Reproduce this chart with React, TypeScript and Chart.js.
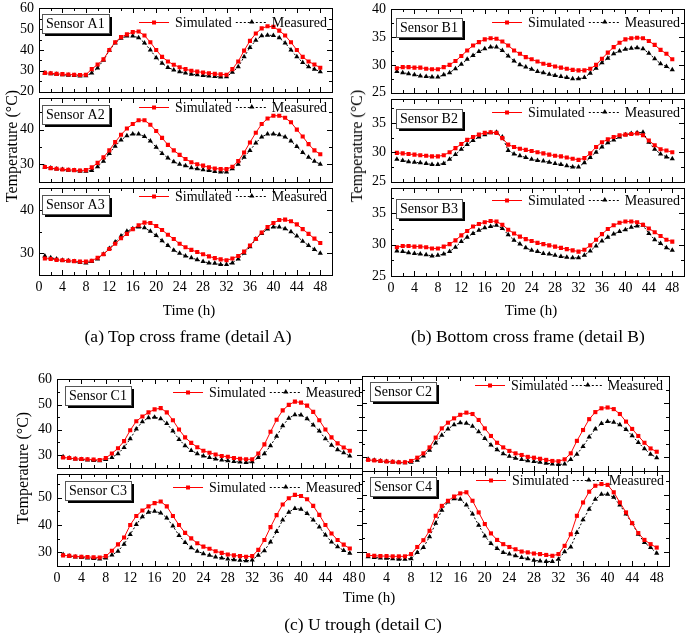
import React, { useEffect, useRef } from "react";
import { Chart, registerables } from "chart.js";

Chart.register(...registerables);

const FONT = "'Liberation Serif', 'Times New Roman', serif";
Chart.defaults.font.family = FONT;
Chart.defaults.font.size = 14;
Chart.defaults.color = "#000";

// ---------- data ----------
const hours = [1, 2, 3, 4, 5, 6, 7, 8, 9, 10, 11, 12, 13, 14, 15, 16, 17, 18, 19, 20, 21, 22, 23, 24,
  25, 26, 27, 28, 29, 30, 31, 32, 33, 34, 35, 36, 37, 38, 39, 40, 41, 42, 43, 44, 45, 46, 47, 48];

const xTickValues = [0, 4, 8, 12, 16, 20, 24, 28, 32, 36, 40, 44, 48];
const xMinorValues = [2, 6, 10, 14, 18, 22, 26, 30, 34, 38, 42, 46];

const seriesNames = ["Simulated", "Measured"];

const simA1 = [29.0, 28.8, 28.5, 28.4, 28.2, 28.1, 28.0, 28.1, 30.8, 33.0, 35.5, 40.0, 43.7, 46.2, 47.5, 48.6, 48.9, 47.0, 43.7, 40.0, 36.7, 34.5, 32.9, 31.7, 30.8, 30.0, 29.6, 29.2, 28.8, 28.5, 28.3, 28.1, 30.8, 34.5, 39.7, 44.4, 47.9, 50.4, 51.4, 51.1, 49.3, 47.0, 43.7, 40.0, 36.7, 34.5, 33.0, 31.5];
const measA1 = [28.9, 28.6, 28.3, 28.1, 27.9, 27.7, 27.5, 27.6, 28.9, 31.4, 35.1, 39.7, 43.4, 45.6, 46.7, 46.7, 45.9, 43.4, 40.0, 36.3, 33.6, 31.6, 30.4, 29.6, 29.0, 28.4, 28.1, 27.7, 27.5, 27.3, 27.0, 27.1, 29.3, 31.9, 36.7, 41.2, 44.7, 46.8, 47.1, 47.0, 45.9, 43.4, 40.0, 36.7, 34.0, 31.9, 30.8, 29.6];
const simA2 = [29.2, 28.9, 28.7, 28.5, 28.4, 28.3, 28.2, 28.3, 29.1, 30.4, 32.0, 34.0, 36.4, 38.5, 40.3, 41.6, 42.7, 42.7, 41.4, 39.6, 37.6, 35.6, 34.0, 32.7, 31.5, 30.6, 30.0, 29.6, 29.1, 28.8, 28.6, 28.6, 29.3, 30.9, 33.4, 36.3, 39.1, 41.6, 43.2, 44.0, 44.0, 43.4, 42.1, 40.0, 38.0, 35.8, 34.0, 32.9];
const measA2 = [29.2, 28.9, 28.6, 28.5, 28.3, 28.2, 28.0, 28.0, 28.2, 29.3, 30.9, 33.1, 35.2, 37.0, 38.2, 38.7, 38.7, 38.0, 36.7, 34.9, 33.1, 31.8, 30.7, 30.0, 29.6, 29.0, 28.7, 28.4, 28.2, 27.9, 27.8, 27.8, 28.7, 30.0, 32.0, 34.0, 36.1, 37.9, 38.7, 38.7, 38.5, 37.9, 36.7, 35.1, 33.4, 32.0, 30.9, 30.0];
const simA3 = [28.8, 28.7, 28.5, 28.4, 28.3, 28.2, 28.1, 28.1, 28.3, 29.0, 29.8, 31.0, 32.2, 33.5, 34.5, 35.6, 36.5, 37.1, 37.0, 36.3, 35.4, 34.3, 33.3, 32.2, 31.4, 30.8, 30.3, 29.8, 29.3, 28.9, 28.6, 28.4, 28.8, 29.4, 30.4, 31.8, 33.3, 34.8, 36.1, 37.0, 37.7, 37.8, 37.4, 36.7, 35.6, 34.5, 33.4, 32.4];
const measA3 = [29.4, 29.0, 28.7, 28.4, 28.3, 28.1, 27.9, 27.8, 28.1, 28.7, 29.8, 31.1, 32.6, 34.0, 35.1, 35.7, 36.1, 35.9, 35.1, 34.1, 32.9, 31.8, 30.7, 30.0, 29.4, 29.0, 28.5, 28.1, 27.8, 27.7, 27.4, 27.4, 27.8, 28.7, 30.0, 31.5, 33.3, 34.6, 35.6, 36.1, 36.1, 35.7, 35.0, 34.0, 32.8, 31.8, 30.9, 30.0];

const simB1 = [29.4, 29.6, 29.6, 29.5, 29.5, 29.3, 29.2, 29.2, 29.6, 30.0, 30.7, 31.6, 32.6, 33.5, 34.1, 34.6, 34.8, 34.7, 34.2, 33.5, 32.6, 32.0, 31.4, 31.0, 30.6, 30.2, 30.0, 29.7, 29.5, 29.3, 29.1, 29.0, 29.0, 29.3, 30.0, 31.1, 32.2, 33.2, 34.0, 34.6, 34.8, 34.9, 34.8, 34.3, 33.6, 32.7, 32.0, 31.0];
const measB1 = [28.8, 28.6, 28.4, 28.2, 28.0, 27.9, 27.8, 27.8, 28.2, 28.6, 29.3, 30.1, 31.0, 31.7, 32.4, 32.9, 33.2, 33.2, 32.6, 31.6, 30.7, 30.0, 29.6, 29.2, 28.8, 28.6, 28.3, 28.1, 27.9, 27.7, 27.5, 27.5, 27.7, 28.5, 29.4, 30.4, 31.2, 32.0, 32.5, 32.8, 33.0, 33.1, 32.9, 32.1, 31.1, 30.2, 29.7, 29.1];
const simB2 = [29.9, 29.8, 29.7, 29.6, 29.5, 29.4, 29.3, 29.3, 29.5, 30.0, 30.7, 31.4, 32.1, 32.6, 33.0, 33.3, 33.4, 33.3, 32.4, 31.3, 30.9, 30.6, 30.4, 30.2, 30.0, 29.8, 29.6, 29.4, 29.3, 29.1, 28.9, 28.7, 29.0, 29.8, 30.9, 31.7, 32.2, 32.6, 32.9, 33.0, 33.1, 33.2, 32.9, 32.0, 31.2, 30.5, 30.3, 30.0];
const measB2 = [28.8, 28.6, 28.4, 28.3, 28.2, 28.1, 27.9, 27.9, 28.1, 28.8, 29.6, 30.5, 31.3, 32.0, 32.6, 33.0, 33.3, 33.4, 32.6, 30.3, 29.7, 29.4, 29.1, 28.8, 28.6, 28.5, 28.3, 28.1, 27.9, 27.7, 27.5, 27.5, 28.2, 29.1, 30.0, 30.9, 31.6, 32.1, 32.6, 33.0, 33.2, 33.3, 33.4, 31.7, 30.5, 29.7, 29.2, 28.9];
const simB3 = [29.6, 29.8, 29.8, 29.7, 29.7, 29.6, 29.4, 29.4, 29.7, 30.1, 30.7, 31.5, 32.2, 32.9, 33.3, 33.6, 33.8, 33.7, 33.2, 32.4, 31.8, 31.3, 30.9, 30.6, 30.3, 30.1, 29.9, 29.7, 29.5, 29.3, 29.1, 28.9, 29.2, 29.9, 30.8, 31.7, 32.5, 33.1, 33.5, 33.7, 33.7, 33.6, 33.2, 32.6, 32.0, 31.4, 30.8, 30.5];
const measB3 = [29.0, 28.9, 28.7, 28.6, 28.5, 28.4, 28.2, 28.3, 28.5, 28.9, 29.6, 30.5, 31.2, 31.8, 32.3, 32.7, 32.9, 33.1, 32.6, 31.6, 30.7, 30.1, 29.5, 29.1, 28.9, 28.6, 28.5, 28.3, 28.1, 28.0, 27.9, 27.9, 28.3, 29.0, 29.8, 30.6, 31.2, 31.7, 32.1, 32.4, 32.8, 33.0, 33.1, 31.8, 30.8, 30.2, 29.5, 29.1];

const simC1 = [29.0, 28.8, 28.5, 28.4, 28.3, 28.2, 28.0, 28.8, 30.6, 32.7, 35.5, 39.8, 43.4, 45.3, 46.9, 48.1, 48.6, 46.9, 43.8, 40.1, 37.0, 34.8, 33.1, 31.7, 30.9, 30.2, 29.6, 29.3, 28.8, 28.5, 28.3, 28.3, 30.6, 34.2, 39.2, 44.0, 47.7, 49.9, 51.2, 50.8, 49.6, 47.1, 43.8, 40.1, 37.0, 34.6, 33.0, 31.7];
const measC1 = [29.3, 28.8, 28.4, 28.2, 28.0, 27.8, 27.7, 28.2, 29.0, 30.5, 33.0, 36.4, 40.3, 43.2, 44.8, 45.0, 44.4, 42.5, 39.5, 36.2, 33.7, 31.8, 30.5, 29.6, 29.0, 28.4, 28.0, 27.7, 27.4, 27.2, 27.0, 27.3, 29.0, 30.5, 33.7, 37.4, 41.6, 44.6, 46.0, 45.9, 44.4, 41.9, 39.5, 36.4, 33.9, 32.1, 30.9, 29.6];
const simC2 = [29.1, 28.9, 28.7, 28.5, 28.4, 28.2, 28.2, 28.7, 29.9, 31.5, 33.7, 37.3, 40.7, 42.8, 44.4, 45.7, 46.5, 46.0, 43.8, 40.7, 37.9, 35.4, 33.7, 32.4, 31.5, 30.9, 30.2, 29.9, 29.5, 29.1, 28.7, 28.6, 29.3, 31.5, 36.1, 40.1, 44.1, 46.7, 48.1, 48.4, 47.8, 46.0, 43.2, 40.5, 37.9, 35.4, 33.3, 32.1];
const measC2 = [29.3, 29.0, 28.7, 28.5, 28.3, 28.1, 28.0, 28.2, 29.0, 30.5, 32.6, 35.3, 38.2, 40.5, 42.0, 42.8, 42.6, 41.5, 39.5, 37.0, 34.6, 32.8, 31.4, 30.4, 29.7, 29.2, 28.8, 28.5, 28.2, 27.9, 27.6, 27.4, 27.6, 29.2, 31.2, 34.0, 37.5, 40.5, 42.5, 43.2, 43.0, 42.0, 40.3, 38.0, 35.5, 33.2, 31.2, 29.9];
const simC3 = [28.9, 28.7, 28.5, 28.4, 28.3, 28.2, 28.1, 28.6, 30.6, 32.9, 35.4, 40.0, 43.3, 45.3, 46.8, 48.0, 48.6, 46.8, 43.3, 40.0, 37.1, 35.1, 33.3, 32.1, 31.3, 30.4, 29.8, 29.2, 28.9, 28.6, 28.4, 28.6, 30.9, 34.5, 39.2, 43.6, 47.5, 49.8, 51.0, 50.6, 49.4, 47.0, 43.7, 40.0, 36.9, 34.5, 32.8, 31.4];
const measC3 = [29.2, 28.7, 28.3, 28.1, 27.9, 27.7, 27.6, 27.9, 29.0, 30.4, 33.0, 36.5, 40.2, 43.0, 44.7, 45.0, 44.4, 42.6, 39.6, 36.2, 33.6, 31.7, 30.4, 29.5, 28.9, 28.3, 27.9, 27.6, 27.3, 27.1, 26.9, 27.2, 28.9, 30.6, 33.8, 37.6, 41.8, 44.7, 46.0, 45.8, 44.2, 41.8, 39.3, 36.3, 33.8, 32.0, 30.7, 29.7];
const simC4 = [28.8, 28.6, 28.5, 28.5, 28.4, 28.4, 28.4, 29.2, 31.7, 34.1, 37.4, 42.7, 46.2, 48.0, 49.5, 50.6, 51.0, 48.0, 43.9, 39.8, 36.5, 34.2, 32.7, 31.7, 30.9, 30.1, 29.8, 29.4, 29.2, 28.9, 28.6, 29.2, 32.1, 36.2, 42.7, 47.4, 51.2, 53.3, 53.9, 53.6, 51.0, 47.4, 43.9, 40.1, 36.6, 34.2, 32.7, 31.5];
const measC4 = [28.3, 28.0, 27.8, 27.7, 27.6, 27.4, 27.4, 27.6, 29.8, 31.5, 35.3, 40.1, 44.7, 47.6, 48.7, 48.5, 46.5, 43.3, 39.4, 35.6, 32.9, 31.2, 29.8, 29.2, 28.6, 28.0, 27.6, 27.0, 26.8, 26.6, 26.6, 27.4, 30.0, 31.7, 36.8, 41.3, 45.0, 48.5, 50.3, 50.3, 49.2, 46.5, 43.3, 40.0, 36.2, 33.3, 31.5, 29.5];

// y tick labels per sub-plot
const yTicksA1 = [20, 30, 40, 50, 60];
const yMinorA1 = [25, 35, 45, 55];
const yTicksA2 = [30, 40];
const yMinorA2 = [35, 45];
const yTicksA3 = [30, 40];
const yMinorA3 = [35];
const yTicksB1 = [25, 30, 35, 40];
const yMinorB1 = [27.5, 32.5, 37.5];
const yTicksB23 = [25, 30, 35];
const yMinorB23 = [27.5, 32.5, 37.5];
const yTicksC1 = [30, 40, 50, 60];
const yMinorC1 = [35, 45, 55];
const yTicksC3 = [30, 40, 50];
const yMinorC3 = [35, 45, 55];

// ---------- layout ----------
const LM = 44;
const RM = 8;
const TM = 10;

const subplots = [
  { id: "A1", L: 39, T: 5, W: 293, H: 90, yMin: 20, yMax: 60, yMajor: yTicksA1, yMinor: yMinorA1, yLab: true, xLab: false, sensor: "Sensor A1", sim: simA1, meas: measA1, legendDy: 14, legendRight: 5, boxDx: 3, boxDy: 6 },
  { id: "A2", L: 39, T: 95, W: 293, H: 90, yMin: 25, yMax: 49, yMajor: yTicksA2, yMinor: yMinorA2, yLab: true, xLab: false, sensor: "Sensor A2", sim: simA2, meas: measA2, legendDy: 9, legendRight: 5, boxDx: 3, boxDy: 7 },
  { id: "A3", L: 39, T: 185, W: 293, H: 90, yMin: 25, yMax: 45, yMajor: yTicksA3, yMinor: yMinorA3, yLab: true, xLab: true, sensor: "Sensor A3", sim: simA3, meas: measA3, legendDy: 8, legendRight: 5, boxDx: 3, boxDy: 7 },
  { id: "B1", L: 391, T: 6, W: 293, H: 90, yMin: 25, yMax: 40, yMajor: yTicksB1, yMinor: yMinorB1, yLab: true, xLab: false, sensor: "Sensor B1", sim: simB1, meas: measB1, legendDy: 13, legendRight: 4, boxDx: 5, boxDy: 9 },
  { id: "B2", L: 391, T: 96, W: 293, H: 89, yMin: 25, yMax: 39, yMajor: yTicksB23, yMinor: yMinorB23, yLab: true, xLab: false, sensor: "Sensor B2", sim: simB2, meas: measB2, legendDy: 13, legendRight: 4, boxDx: 5, boxDy: 10 },
  { id: "B3", L: 391, T: 185, W: 293, H: 91, yMin: 25, yMax: 39, yMajor: yTicksB23, yMinor: yMinorB23, yLab: true, xLab: true, sensor: "Sensor B3", sim: simB3, meas: measB3, legendDy: 12, legendRight: 4, boxDx: 5, boxDy: 11 },
  { id: "C1", L: 57, T: 376, W: 305, H: 95, yMin: 25, yMax: 60, yMajor: yTicksC1, yMinor: yMinorC1, yLab: true, xLab: false, sensor: "Sensor C1", sim: simC1, meas: measC1, legendDy: 13, legendRight: 1, boxDx: 8, boxDy: 7 },
  { id: "C2", L: 362, T: 376, W: 307, H: 95, yMin: 25, yMax: 60, yMajor: yTicksC1, yMinor: yMinorC1, yLab: false, xLab: false, sensor: "Sensor C2", sim: simC2, meas: measC2, legendDy: 9, legendRight: 6, boxDx: 8, boxDy: 6 },
  { id: "C3", L: 57, T: 471, W: 305, H: 95, yMin: 25, yMax: 58.5, yMajor: yTicksC3, yMinor: yMinorC3, yLab: true, xLab: true, sensor: "Sensor C3", sim: simC3, meas: measC3, legendDy: 13, legendRight: 1, boxDx: 8, boxDy: 7 },
  { id: "C4", L: 362, T: 471, W: 307, H: 95, yMin: 25, yMax: 58.5, yMajor: yTicksC3, yMinor: yMinorC3, yLab: false, xLab: true, sensor: "Sensor C4", sim: simC4, meas: measC4, legendDy: 9, legendRight: 5, boxDx: 8, boxDy: 6 },
];

const RED = "#ff0000";

const framePlugin = {
  id: "frame",
  afterDatasetsDraw(chart: any, _args: any, o: any) {
    const ctx = chart.ctx;
    const a = chart.chartArea;
    const L = Math.round(a.left), R = Math.round(a.right), T = Math.round(a.top), B = Math.round(a.bottom);
    const xs = chart.scales.x, ys = chart.scales.y;
    ctx.save();
    ctx.strokeStyle = "#000";
    ctx.lineWidth = 1;
    ctx.setLineDash([]);
    const seg = (x1: number, y1: number, x2: number, y2: number) => {
      ctx.beginPath(); ctx.moveTo(x1, y1); ctx.lineTo(x2, y2); ctx.stroke();
    };
    ctx.strokeRect(L + 0.5, T + 0.5, R - L, B - T);
    for (const v of o.xMajor) {
      const p = Math.round(xs.getPixelForValue(v)) + 0.5;
      seg(p, B, p, B - 5); seg(p, T, p, T + 5);
    }
    for (const v of o.xMinor) {
      const p = Math.round(xs.getPixelForValue(v)) + 0.5;
      seg(p, B, p, B - 3); seg(p, T, p, T + 3);
    }
    for (const v of o.yMajor) {
      const p = Math.round(ys.getPixelForValue(v)) + 0.5;
      seg(L, p, L + 5, p); seg(R, p, R - 5, p);
    }
    for (const v of o.yMinor) {
      const p = Math.round(ys.getPixelForValue(v)) + 0.5;
      seg(L, p, L + 3, p); seg(R, p, R - 3, p);
    }

    // sensor label box with shadow
    ctx.font = `14px ${FONT}`;
    ctx.textBaseline = "middle";
    ctx.textAlign = "left";
    const tw = ctx.measureText(o.sensor).width;
    const bx = L + o.boxDx, by = T + o.boxDy, bw = Math.round(tw + 8), bh = 19;
    ctx.fillStyle = "#000";
    ctx.fillRect(bx + 3, by + 3, bw, bh);
    ctx.fillStyle = "#fff";
    ctx.fillRect(bx, by, bw, bh);
    ctx.strokeStyle = "#555";
    ctx.strokeRect(bx + 0.5, by + 0.5, bw, bh);
    ctx.fillStyle = "#000";
    ctx.fillText(o.sensor, bx + 4, by + bh / 2 + 1);

    // legend
    const ds = chart.data.datasets;
    const ly = T + o.legendDy;
    const wS = ctx.measureText(ds[0].label).width;
    const wM = ctx.measureText(ds[1].label).width;
    const mStart = R - o.legendRight - wM;
    ctx.fillText(ds[1].label, mStart, ly + 1);
    const l2e = mStart - 4, l2s = l2e - 32;
    ctx.strokeStyle = "#000";
    ctx.setLineDash([2, 2]);
    seg(l2s, ly + 0.5, l2e, ly + 0.5);
    ctx.setLineDash([]);
    const tx = (l2s + l2e) / 2;
    ctx.fillStyle = "#000";
    ctx.beginPath();
    ctx.moveTo(tx, ly - 3);
    ctx.lineTo(tx + 2.6, ly + 1.5);
    ctx.lineTo(tx - 2.6, ly + 1.5);
    ctx.closePath();
    ctx.fill();
    const sEnd = l2s - 4;
    const sStart = sEnd - wS;
    ctx.fillText(ds[0].label, sStart, ly + 1);
    const l1e = sStart - 6, l1s = l1e - 30;
    ctx.strokeStyle = RED;
    seg(l1s, ly + 0.5, l1e, ly + 0.5);
    ctx.fillStyle = RED;
    const sx = (l1s + l1e) / 2;
    ctx.fillRect(sx - 2, ly - 1.5, 4, 4);
    ctx.restore();
  },
};

function SubPlot({ cfg }: { cfg: any }) {
  const ref = useRef<HTMLCanvasElement>(null);
  const BM = cfg.xLab ? 24 : 10;
  useEffect(() => {
    if (!ref.current) return;
    const chart = new Chart(ref.current, {
      type: "line",
      data: {
        datasets: [
          {
            label: seriesNames[0],
            data: cfg.sim.map((v: number, i: number) => ({ x: hours[i], y: v })),
            borderColor: RED,
            borderWidth: 1,
            pointStyle: "rect",
            pointRadius: 2.9,
            pointBackgroundColor: RED,
            pointBorderColor: RED,
            pointBorderWidth: 0,
            tension: 0,
          },
          {
            label: seriesNames[1],
            data: cfg.meas.map((v: number, i: number) => ({ x: hours[i], y: v })),
            borderColor: "#000",
            borderWidth: 1,
            borderDash: [2, 2],
            pointStyle: "triangle",
            pointRadius: 3,
            pointBackgroundColor: "#000",
            pointBorderColor: "#000",
            pointBorderWidth: 0,
            tension: 0,
          },
        ],
      },
      options: {
        responsive: false,
        animation: false,
        devicePixelRatio: 1,
        layout: { padding: { left: 0, right: RM, top: TM, bottom: cfg.xLab ? 0 : BM } },
        scales: {
          x: {
            type: "linear",
            min: 0,
            max: 50,
            afterBuildTicks: (s: any) => { s.ticks = xTickValues.map((v) => ({ value: v })); },
            afterFit: (s: any) => { s.height = cfg.xLab ? BM : 0; },
            grid: { display: false, drawTicks: false },
            border: { display: false },
            ticks: { display: cfg.xLab, color: "#000", font: { family: FONT, size: 14 }, padding: 4, maxRotation: 0, autoSkip: false },
          },
          y: {
            type: "linear",
            min: cfg.yMin,
            max: cfg.yMax,
            afterBuildTicks: (s: any) => { s.ticks = cfg.yMajor.map((v: number) => ({ value: v })); },
            afterFit: (s: any) => { s.width = LM; },
            grid: { display: false, drawTicks: false },
            border: { display: false },
            ticks: { display: cfg.yLab, color: "#000", font: { family: FONT, size: 14 }, padding: 5 },
          },
        },
        plugins: {
          legend: { display: false },
          tooltip: { enabled: false },
          frame: { sensor: cfg.sensor, xMajor: xTickValues, xMinor: xMinorValues, yMajor: cfg.yMajor, yMinor: cfg.yMinor, legendDy: cfg.legendDy, legendRight: cfg.legendRight, boxDx: cfg.boxDx, boxDy: cfg.boxDy },
        } as any,
      } as any,
      plugins: [framePlugin],
    });
    return () => chart.destroy();
  }, []);
  return (
    <canvas
      ref={ref}
      width={LM + cfg.W + RM}
      height={TM + cfg.H + BM}
      style={{ position: "absolute", left: cfg.L - LM, top: cfg.T - TM }}
    />
  );
}

const textBase: any = { position: "absolute", fontFamily: FONT, color: "#000", whiteSpace: "nowrap", transform: "translate(-50%, -50%)", lineHeight: 1 };

export default function App() {
  return (
    <div style={{ position: "absolute", left: 0, top: 0, width: 685, height: 633, background: "#fff", overflow: "hidden" }}>
      {subplots.map((c) => <SubPlot key={c.id} cfg={c} />)}
      <div style={{ ...textBase, left: 12, top: 146, fontSize: 16, transform: "translate(-50%, -50%) rotate(-90deg)" }}>Temperature (°C)</div>
      <div style={{ ...textBase, left: 357, top: 146, fontSize: 16, transform: "translate(-50%, -50%) rotate(-90deg)" }}>Temperature (°C)</div>
      <div style={{ ...textBase, left: 23, top: 468, fontSize: 16, transform: "translate(-50%, -50%) rotate(-90deg)" }}>Temperature (°C)</div>
      <div style={{ ...textBase, left: 189, top: 310, fontSize: 15 }}>Time (h)</div>
      <div style={{ ...textBase, left: 531, top: 310, fontSize: 15 }}>Time (h)</div>
      <div style={{ ...textBase, left: 369, top: 597, fontSize: 15 }}>Time (h)</div>
      <div style={{ ...textBase, left: 188, top: 337, fontSize: 17.5 }}>(a) Top cross frame (detail A)</div>
      <div style={{ ...textBase, left: 528, top: 337, fontSize: 17.5 }}>(b) Bottom cross frame (detail B)</div>
      <div style={{ ...textBase, left: 363, top: 625, fontSize: 17.5 }}>(c) U trough (detail C)</div>
    </div>
  );
}
